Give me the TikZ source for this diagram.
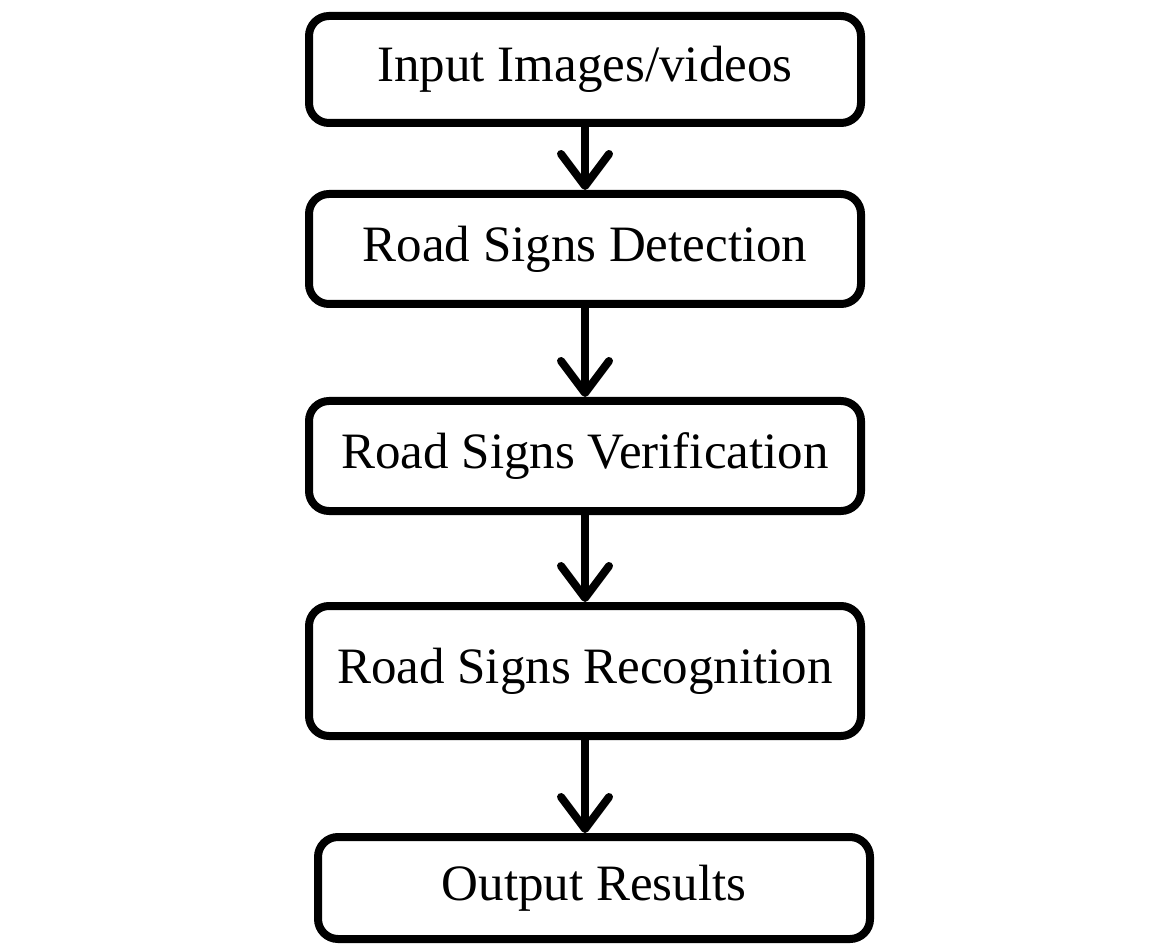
\documentclass[tikz,border=0pt]{standalone}
\usepackage{fontspec}
\setmainfont{Liberation Serif}
\usetikzlibrary{arrows.meta}

\begin{document}
\begin{tikzpicture}[x=0.5pt, y=-0.5pt,
        stage/.style={draw, line width=4pt, rounded corners=10pt, minimum width=276pt,
            font=\fontsize{25.5}{30}\selectfont},
        flow/.style={line width=4pt, -{Straight Barb[length=16pt, width=24pt, round]}}]
        \useasboundingbox (0,0) rectangle (1167,946);

        \node[stage, minimum height=53.5pt] (input) at (585,69.5) {Input Images/videos};
        \node[stage, minimum height=55pt] (detect) at (585,249) {Road Signs Detection};
        \node[stage, minimum height=55pt] (verify) at (585,456) {Road Signs Verification};
        \node[stage, minimum height=65pt] (recog) at (585,671) {Road Signs Recognition};
        \node[stage, minimum height=51pt] (output) at (594,888) {Output Results};

        \draw[flow] (input.south) -- (detect.north);
        \draw[flow] (detect.south) -- (verify.north);
        \draw[flow] (verify.south) -- (recog.north);
        \draw[flow] (recog.south) -- (recog.south |- output.north);
    \end{tikzpicture}
\end{document}
